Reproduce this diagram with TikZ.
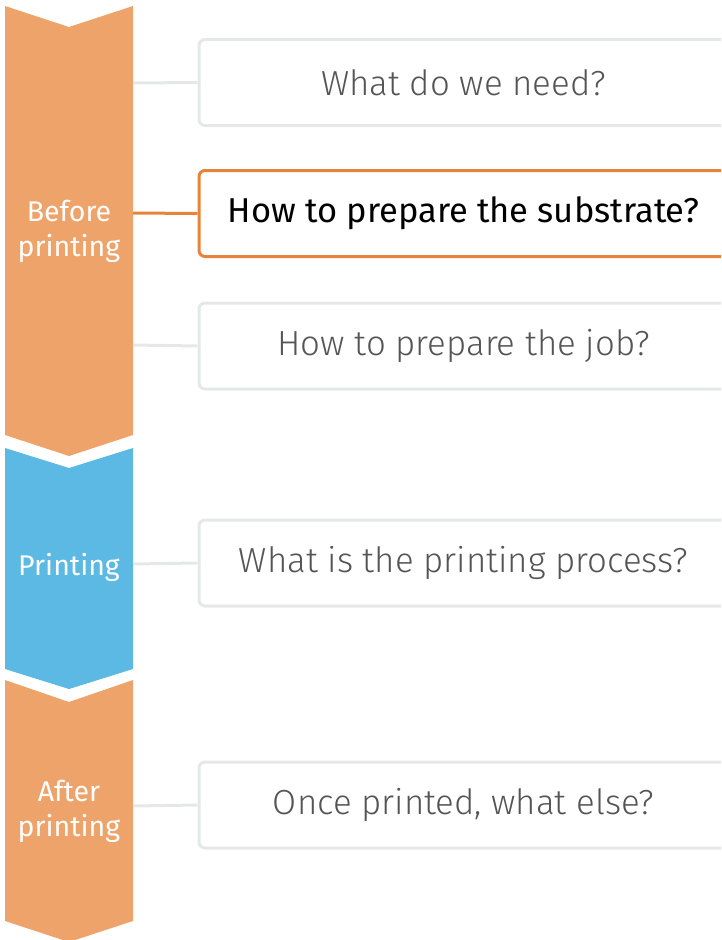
\documentclass[tikz,border=0pt]{standalone}
\usepackage{fontspec}
\setmainfont{Fira Sans}[UprightFont=* Light]
\newfontfamily\labelfont{Fira Sans}
\usepackage{tikz}
\usetikzlibrary{positioning,calc}
\definecolor{stageorange}{HTML}{EDA36A}
\definecolor{stageblue}{HTML}{5BB9E3}
\definecolor{boxgray}{HTML}{E5E8E9}
\definecolor{hiorange}{HTML}{E8833A}
\definecolor{textgray}{HTML}{555555}

\begin{document}
\begin{tikzpicture}[
    x=1pt, y=-1pt,
    box/.style={rectangle, draw=boxgray, rounded corners=6pt, line width=3pt, minimum width=529pt, minimum height=86pt, inner sep=0pt, font=\fontsize{34.8}{40}\selectfont, text=textgray, fill=white},
    hibox/.style={box, draw=hiorange, text=black, font=\labelfont\fontsize{34.5}{40}\selectfont},
    stage/.style={align=center, text=white, font=\labelfont\fontsize{28.5}{35}\selectfont},
    link/.style={draw=boxgray, line width=3pt},
    hilink/.style={draw=hiorange, line width=3pt}
]
    \clip (0,0) rectangle (721,940);

    % Stage chevrons
    \fill[stageorange] (5,6) -- (69,27) -- (133,6) -- (133,435) -- (69,456) -- (5,435) -- cycle;
    \fill[stageblue] (5,448) -- (69,468) -- (133,448) -- (133,669) -- (69,689) -- (5,669) -- cycle;
    \fill[stageorange] (5,680) -- (69,702) -- (133,680) -- (133,921) -- (69,942) -- (5,921) -- cycle;

    % Stage labels
    \node[stage] (before) at (69,231) {Before\\printing};
    \node[stage] (printing) at (69,567) {Printing};
    \node[stage] (after) at (69,811) {After\\printing};

    % Chevron edge points
    \coordinate (e1) at (133,83);
    \coordinate (e2) at (133,213);
    \coordinate (e3) at (133,345);
    \coordinate (e4) at (133,564);
    \coordinate (e5) at (133,806);

    % Question boxes
    \node[box, anchor=west] (need) at (197.5,82.5) {What do we need?};
    \node[hibox, anchor=west] (substrate) at (197.5,213.5) {How to prepare the substrate?};
    \node[box, anchor=west] (job) at (197.5,346) {How to prepare the job?};
    \node[box, anchor=west] (process) at (197.5,563) {What is the printing process?};
    \node[box, anchor=west] (once) at (197.5,805) {Once printed, what else?};

    % Connectors
    \draw[link] (e1) -- (need.west);
    \draw[hilink] (e2) -- (substrate.west);
    \draw[link] (e3) -- (job.west);
    \draw[link] (e4) -- (process.west);
    \draw[link] (e5) -- (once.west);
\end{tikzpicture}
\end{document}
